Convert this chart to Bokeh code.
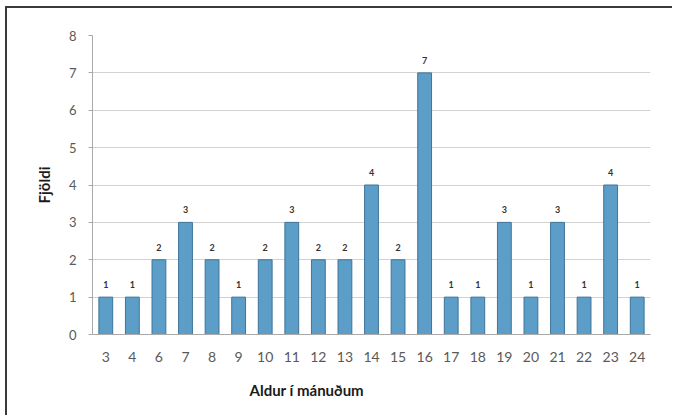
from bokeh.plotting import figure
from bokeh.models import FactorRange, Range1d, Title, LabelSet, ColumnDataSource
from bokeh.core.properties import value
from bokeh.embed import file_html
from bokeh.resources import INLINE

# Age in months and number of children at each age
ages = ["3", "4", "6", "7", "8", "9", "10", "11", "12", "13", "14",
        "15", "16", "17", "18", "19", "20", "21", "22", "23", "24"]
counts = [1, 1, 2, 3, 2, 1, 2, 3, 2, 2, 4, 2, 7, 1, 1, 3, 1, 3, 1, 4, 1]
y_ticks = [0, 1, 2, 3, 4, 5, 6, 7, 8]

FONT = "Lato"

src = ColumnDataSource(dict(age=ages, count=counts,
                            label=[str(c) for c in counts]))

p = figure(width=667, height=409,
           x_range=FactorRange(*ages), y_range=Range1d(0, 8),
           output_backend="svg", toolbar_location=None,
           min_border_left=85, min_border_right=24,
           min_border_top=27, min_border_bottom=83)
p.styles = {"border-top": "2px solid #3a3a3a",
            "border-left": "2px solid #3a3a3a",
            "margin-left": "5px", "margin-top": "6px"}
p.outline_line_color = None
p.background_fill_color = "white"

p.vbar(x="age", top="count", width=0.52, source=src,
       fill_color="#5d9ec8", line_color="#3d7499", line_width=1)

p.add_layout(LabelSet(x="age", y="count", text="label", source=src,
                      y_offset=9, text_align="center", text_baseline="bottom",
                      text_font=value(FONT), text_font_size="9px",
                      text_font_style="bold", text_color="#333333"))

# grid
p.xgrid.grid_line_color = None
p.ygrid.grid_line_color = "#d2d2d2"
p.ygrid.grid_line_width = 1

# y axis
p.yaxis.ticker = y_ticks
p.yaxis.axis_line_color = "#a8a8a8"
p.yaxis.major_tick_line_color = "#a8a8a8"
p.yaxis.major_tick_in = 0
p.yaxis.major_tick_out = 4
p.yaxis.minor_tick_line_color = None
p.yaxis.major_label_standoff = 12
p.yaxis.major_label_text_font = FONT
p.yaxis.major_label_text_font_size = "13px"
p.yaxis.major_label_text_color = "#595959"
p.yaxis.axis_label = "Fjöldi"
p.yaxis.axis_label_text_font = FONT
p.yaxis.axis_label_text_font_size = "15px"
p.yaxis.axis_label_text_font_style = "bold"
p.yaxis.axis_label_text_color = "#1a1a1a"
p.yaxis.axis_label_standoff = 13

# x axis
p.xaxis.axis_line_color = "#a8a8a8"
p.xaxis.major_tick_line_color = None
p.xaxis.major_tick_out = 0
p.xaxis.major_label_standoff = 17
p.xaxis.major_label_text_font = FONT
p.xaxis.major_label_text_font_size = "14px"
p.xaxis.major_label_text_color = "#595959"

p.add_layout(Title(text="Aldur í mánuðum", align="left", offset=157,
                   text_font=FONT, text_font_size="15px",
                   text_font_style="bold", text_color="#1a1a1a",
                   standoff=28), "below")

open("out.html", "w").write(file_html(p, INLINE))
